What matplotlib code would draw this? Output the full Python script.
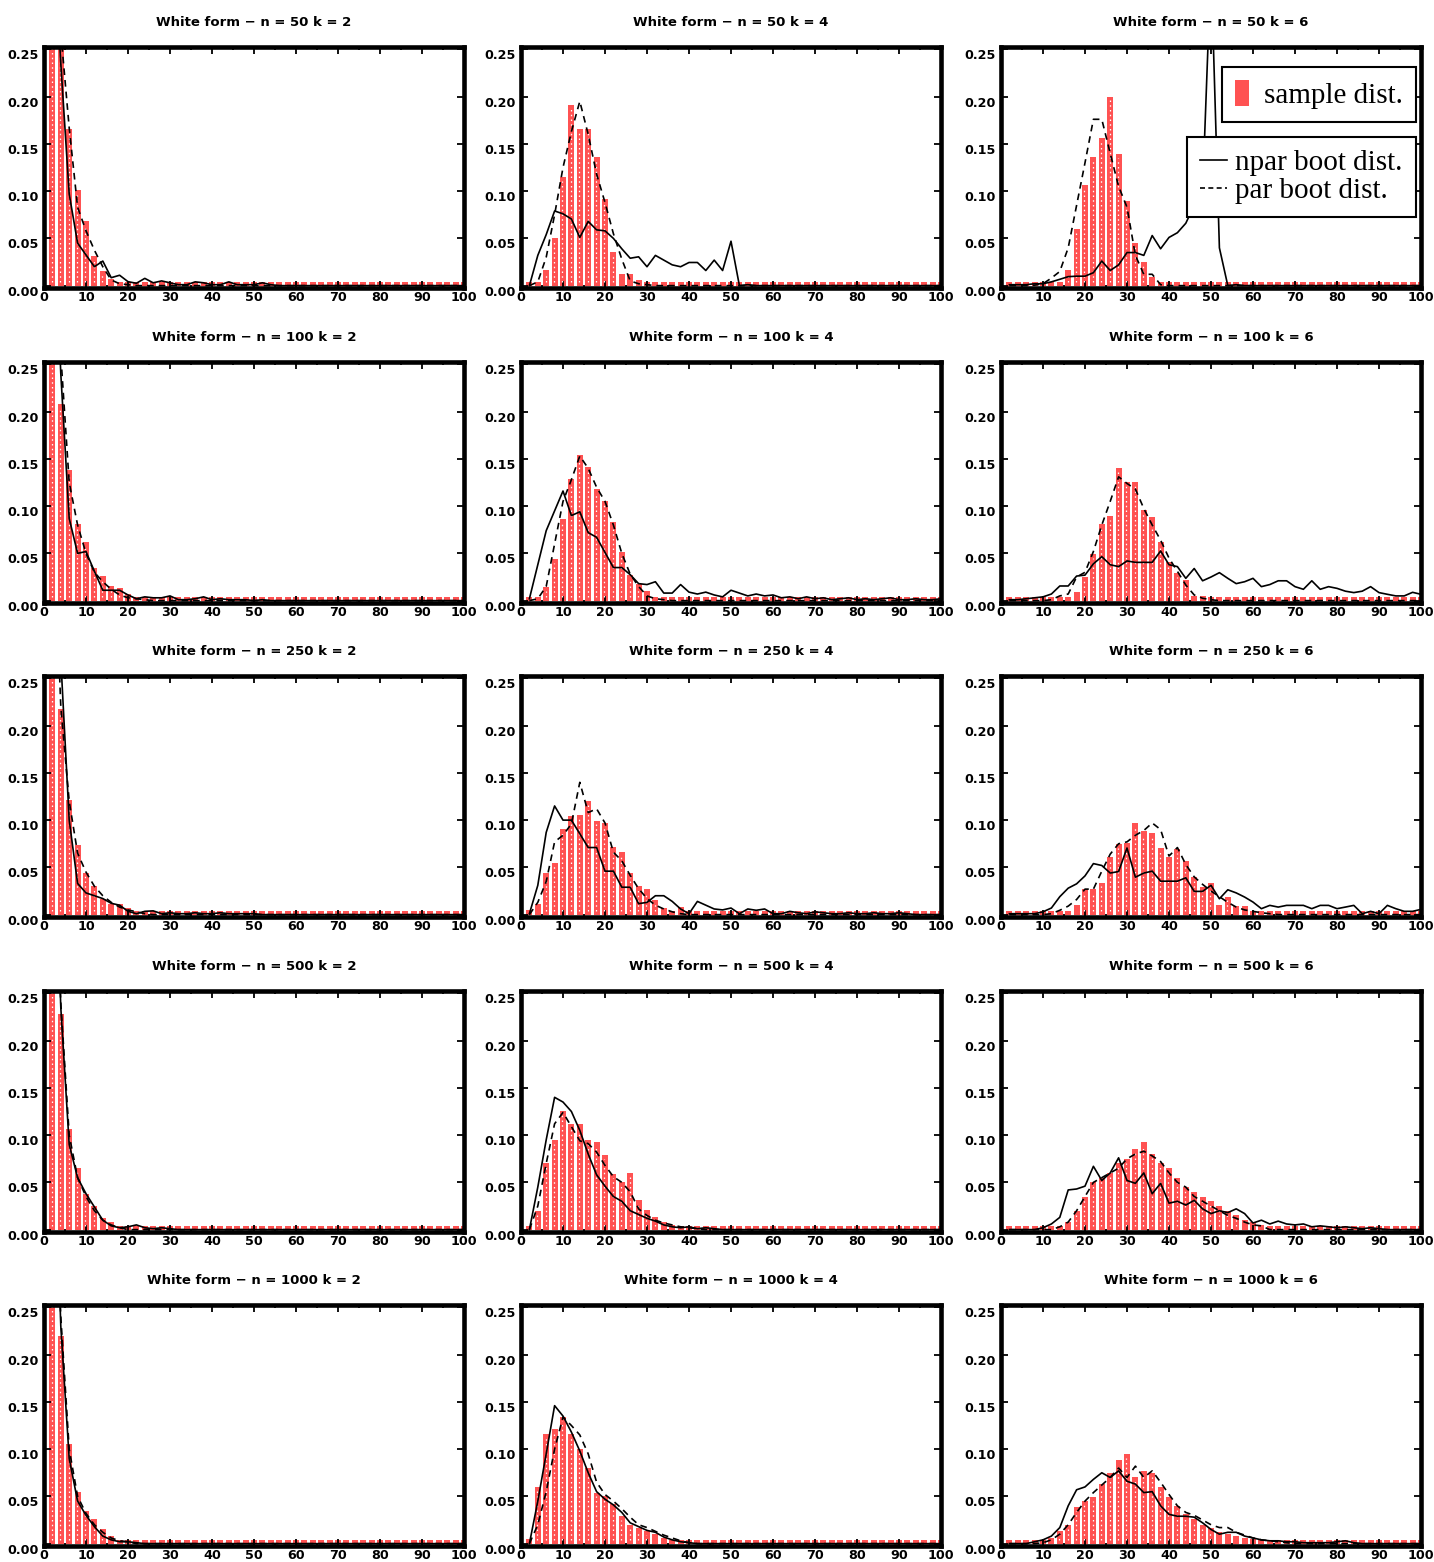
"""Sample vs bootstrap distributions of the White-form statistic, 5x3 grid."""

import matplotlib
matplotlib.use("Agg")
import matplotlib.pyplot as plt
import numpy as np
from matplotlib import font_manager
from matplotlib.lines import Line2D
from matplotlib.patches import Patch

TICK_FONT = ["DejaVu Sans Condensed", "Liberation Sans Narrow", "DejaVu Sans"]
LEGEND_FONT = ["Liberation Serif", "DejaVu Serif"]
RED = "#ff5252"
NBINS = 50
X = np.arange(2, 101, 2)  # bin centres, width 2

SAMPLE_SIZES = [50, 100, 250, 500, 1000]
K_VALUES = [2, 4, 6]

# ---- n = 50 ----
SAMPLE_50_2 = [0.33, 0.27, 0.166, 0.101, 0.068, 0.0315, 0.015, 0.007, 0.0015]
NPAR_50_2 = [0.40, 0.235, 0.097, 0.045, 0.0325, 0.02, 0.026, 0.0084, 0.011, 0.0042,
             0.0025, 0.0077, 0.003, 0.005, 0.003, 0.001, 0.001, 0.004, 0.003, 0.001,
             0.001, 0.004, 0.001, 0.001, 0.001, 0.003, 0.001]
PAR_50_2 = [0.32, 0.268, 0.167, 0.083, 0.058, 0.0375, 0.02, 0.006, 0.002, 0.001]

SAMPLE_50_4 = [0.0, 0.0, 0.0165, 0.05, 0.115, 0.191, 0.166, 0.166, 0.136, 0.092,
               0.036, 0.012, 0.012, 0.006]
NPAR_50_4 = [0.0, 0.032, 0.054, 0.079, 0.076, 0.0705, 0.051, 0.068, 0.059, 0.058,
             0.050, 0.039, 0.029, 0.0305, 0.020, 0.032, 0.027, 0.022, 0.020, 0.0245,
             0.0245, 0.016, 0.027, 0.016, 0.047, 0.0, 0.001]
PAR_50_4 = [0.0, 0.004, 0.03, 0.075, 0.125, 0.163, 0.195, 0.16, 0.118, 0.088,
            0.055, 0.028, 0.005, 0.002, 0.001]

SAMPLE_50_6 = [0, 0, 0, 0, 0, 0, 0, 0.0165, 0.06, 0.107, 0.1365, 0.156, 0.2, 0.139,
               0.09, 0.0456, 0.025, 0.0095]
NPAR_50_6 = [0.001, 0.001, 0.001, 0.002, 0.002, 0.004, 0.0067, 0.0095, 0.010, 0.010,
             0.0137, 0.026, 0.016, 0.022, 0.035, 0.035, 0.032, 0.053, 0.039, 0.051,
             0.056, 0.066, 0.085, 0.10, 0.34, 0.04, 0.0, 0.001]
PAR_50_6 = [0, 0, 0, 0.0005, 0.002, 0.008, 0.015, 0.04, 0.085, 0.13, 0.176, 0.176,
            0.14, 0.105, 0.083, 0.032, 0.012, 0.012, 0.001]

# ---- n = 100 ----
SAMPLE_100_2 = [0.40, 0.208, 0.138, 0.081, 0.062, 0.035, 0.026, 0.016, 0.013, 0.007,
                0.004, 0.002, 0.002, 0.001]
NPAR_100_2 = [0.45, 0.24, 0.087, 0.05, 0.052, 0.031, 0.011, 0.011, 0.011, 0.006,
              0.002, 0.004, 0.003, 0.003, 0.005, 0.001, 0.001, 0.002, 0.004, 0.001,
              0.002, 0.001, 0.001, 0.001, 0.0, 0.001]
PAR_100_2 = [0.38, 0.26, 0.125, 0.08, 0.05, 0.03, 0.02, 0.012, 0.006, 0.003, 0.002, 0.001]

SAMPLE_100_4 = [0.002, 0.002, 0.014, 0.044, 0.086, 0.1285, 0.154, 0.1415, 0.118, 0.1056,
                0.0827, 0.0511, 0.0271, 0.0176, 0.0106, 0.0035, 0.0018]
NPAR_100_4 = [0.002, 0.038, 0.074, 0.095, 0.116, 0.09, 0.094, 0.072, 0.067, 0.051,
              0.035, 0.035, 0.0275, 0.018, 0.017, 0.02, 0.008, 0.008, 0.017, 0.009,
              0.007, 0.009, 0.006, 0.004, 0.011, 0.008, 0.005, 0.007, 0.005, 0.006,
              0.003, 0.004, 0.002, 0.004, 0.002, 0.003, 0.001, 0.002, 0.003, 0.001,
              0.002, 0.001, 0.002, 0.003, 0.001, 0.001, 0.002, 0.001, 0.001, 0.002]
PAR_100_4 = [0.0, 0.002, 0.015, 0.06, 0.105, 0.128, 0.153, 0.14, 0.12, 0.105,
             0.08, 0.05, 0.028, 0.015, 0.005, 0.002, 0.001]

SAMPLE_100_6 = [0, 0, 0, 0, 0, 0, 0, 0.002, 0.0088, 0.025, 0.049, 0.0806, 0.0894, 0.14,
                0.126, 0.126, 0.096, 0.0887, 0.0616, 0.041, 0.029, 0.022, 0.005, 0.005]
NPAR_100_6 = [0.001, 0.001, 0.002, 0.003, 0.004, 0.007, 0.0155, 0.0155, 0.026, 0.027,
              0.039, 0.0465, 0.038, 0.036, 0.042, 0.0405, 0.0405, 0.0405, 0.0525, 0.038,
              0.036, 0.0236, 0.034, 0.021, 0.025, 0.0296, 0.0236, 0.018, 0.020, 0.0236,
              0.0148, 0.017, 0.021, 0.021, 0.0148, 0.012, 0.021, 0.012, 0.0148, 0.013,
              0.010, 0.0085, 0.010, 0.0148, 0.0085, 0.0067, 0.005, 0.005, 0.0088, 0.0067]
PAR_100_6 = [0, 0, 0, 0, 0, 0.001, 0.005, 0.007, 0.025, 0.03, 0.052, 0.08, 0.105, 0.131,
             0.124, 0.118, 0.0975, 0.08, 0.064, 0.045, 0.031, 0.0165, 0.006, 0.0025, 0.001]

# ---- n = 250 ----
SAMPLE_250_2 = [0.45, 0.2176, 0.121, 0.074, 0.0444, 0.030, 0.017, 0.0116, 0.0116, 0.007,
                0.003, 0.002]
NPAR_250_2 = [0.62, 0.27, 0.10, 0.033, 0.023, 0.020, 0.017, 0.012, 0.010, 0.0035,
              0.001, 0.0035, 0.004, 0.001, 0.002, 0.001, 0.001, 0.002, 0.001, 0.001,
              0.002, 0.001, 0.001, 0.001, 0.001]
PAR_250_2 = [0.45, 0.22, 0.12, 0.065, 0.045, 0.03, 0.02, 0.013, 0.008, 0.005, 0.003, 0.001]

SAMPLE_250_4 = [0.0046, 0.0116, 0.044, 0.055, 0.091, 0.104, 0.1056, 0.12, 0.0996, 0.097,
                0.0715, 0.066, 0.044, 0.030, 0.0275, 0.015, 0.007, 0.0035, 0.0077, 0.003]
NPAR_250_4 = [0.001, 0.031, 0.087, 0.115, 0.10, 0.10, 0.0856, 0.071, 0.071, 0.046,
              0.046, 0.029, 0.029, 0.0116, 0.013, 0.020, 0.020, 0.014, 0.006, 0.001,
              0.014, 0.010, 0.006, 0.005, 0.007, 0.001, 0.006, 0.0046, 0.006, 0.001,
              0.001, 0.0035, 0.002, 0.001, 0.003, 0.002, 0.001, 0.001, 0.002, 0.001,
              0.001, 0.002, 0.001, 0.001, 0.002, 0.001]
PAR_250_4 = [0.0, 0.013, 0.035, 0.077, 0.084, 0.096, 0.14, 0.108, 0.112, 0.097,
             0.066, 0.057, 0.0415, 0.0275, 0.017, 0.01, 0.006, 0.003, 0.001]

SAMPLE_250_6 = [0, 0, 0, 0, 0, 0, 0.0035, 0.004, 0.0105, 0.027, 0.027, 0.034, 0.061,
                0.075, 0.076, 0.097, 0.088, 0.086, 0.071, 0.061, 0.069, 0.057, 0.040,
                0.029, 0.033, 0.0105, 0.019, 0.0088, 0.0088, 0.003]
NPAR_250_6 = [0.001, 0.001, 0.001, 0.001, 0.003, 0.007, 0.019, 0.028, 0.0326, 0.041,
              0.054, 0.052, 0.044, 0.0456, 0.0705, 0.0396, 0.044, 0.046, 0.0354, 0.0354,
              0.0354, 0.039, 0.0246, 0.0246, 0.031, 0.0168, 0.0263, 0.023, 0.0186, 0.0133,
              0.0063, 0.0098, 0.008, 0.0098, 0.0098, 0.0098, 0.0063, 0.0098, 0.0098, 0.0063,
              0.008, 0.0098, 0.001, 0.0035, 0.001, 0.0098, 0.0063, 0.0035, 0.0035, 0.0056]
PAR_250_6 = [0, 0, 0, 0, 0, 0.001, 0.0046, 0.009, 0.016, 0.027, 0.027, 0.046, 0.064,
             0.075, 0.077, 0.084, 0.089, 0.097, 0.09, 0.062, 0.071, 0.053, 0.040, 0.032,
             0.025, 0.019, 0.013, 0.008, 0.005, 0.0035, 0.002, 0.001]

# ---- n = 500 ----
SAMPLE_500_2 = [0.42, 0.228, 0.106, 0.065, 0.038, 0.025, 0.012, 0.008, 0.004, 0.003, 0.002]
NPAR_500_2 = [0.50, 0.235, 0.09, 0.055, 0.038, 0.024, 0.01, 0.004, 0.002, 0.003, 0.005,
              0.002, 0.001, 0.002, 0.001]
PAR_500_2 = [0.45, 0.24, 0.10, 0.055, 0.035, 0.02, 0.01, 0.005, 0.002]

SAMPLE_500_4 = [0.003, 0.02, 0.07, 0.095, 0.125, 0.112, 0.112, 0.095, 0.093, 0.079,
                0.059, 0.05, 0.06, 0.031, 0.021, 0.013, 0.008, 0.005, 0.003, 0.002]
NPAR_500_4 = [0.0, 0.045, 0.095, 0.14, 0.135, 0.125, 0.105, 0.08, 0.058, 0.046,
              0.035, 0.03, 0.02, 0.016, 0.012, 0.009, 0.005, 0.003, 0.002, 0.003,
              0.001, 0.002, 0.001]
PAR_500_4 = [0.0, 0.025, 0.07, 0.112, 0.124, 0.109, 0.094, 0.091, 0.082, 0.068,
             0.056, 0.05, 0.04, 0.022, 0.015, 0.01, 0.007, 0.005, 0.003, 0.002, 0.001]

SAMPLE_500_6 = [0, 0, 0, 0, 0, 0, 0.003, 0.008, 0.02, 0.035, 0.05, 0.055, 0.06, 0.07,
                0.075, 0.085, 0.093, 0.08, 0.07, 0.065, 0.055, 0.045, 0.04, 0.035, 0.03,
                0.025, 0.02, 0.015, 0.01, 0.008, 0.005, 0.004, 0.003]
NPAR_500_6 = [0, 0, 0, 0, 0.002, 0.006, 0.013, 0.042, 0.043, 0.046, 0.067, 0.052, 0.06,
              0.076, 0.052, 0.049, 0.06, 0.038, 0.049, 0.028, 0.03, 0.026, 0.031, 0.022,
              0.017, 0.02, 0.018, 0.022, 0.017, 0.007, 0.01, 0.006, 0.009, 0.006, 0.005,
              0.006, 0.003, 0.004, 0.003, 0.002, 0.003, 0.002, 0.001, 0.002, 0.001]
PAR_500_6 = [0, 0, 0, 0, 0, 0, 0.003, 0.008, 0.02, 0.035, 0.05, 0.055, 0.06, 0.065,
             0.075, 0.08, 0.083, 0.078, 0.072, 0.06, 0.05, 0.045, 0.035, 0.03, 0.025,
             0.02, 0.015, 0.012, 0.008, 0.005, 0.004]

# ---- n = 1000 ----
SAMPLE_1000_2 = [0.42, 0.22, 0.105, 0.055, 0.035, 0.026, 0.015, 0.008, 0.004, 0.003]
NPAR_1000_2 = [0.50, 0.23, 0.09, 0.045, 0.03, 0.018, 0.008, 0.004, 0.002, 0.002, 0.001]
PAR_1000_2 = [0.45, 0.24, 0.10, 0.05, 0.032, 0.02, 0.012, 0.006, 0.003, 0.002]

SAMPLE_1000_4 = [0.005, 0.06, 0.116, 0.121, 0.134, 0.116, 0.10, 0.08, 0.054, 0.05,
                 0.042, 0.029, 0.02, 0.017, 0.013, 0.01, 0.006, 0.004, 0.002, 0.001]
NPAR_1000_4 = [0.0, 0.045, 0.095, 0.146, 0.135, 0.118, 0.098, 0.075, 0.055, 0.047,
               0.041, 0.033, 0.022, 0.018, 0.014, 0.012, 0.007, 0.004, 0.002, 0.001]
PAR_1000_4 = [0.0, 0.02, 0.055, 0.10, 0.134, 0.125, 0.115, 0.095, 0.065, 0.052,
              0.045, 0.037, 0.028, 0.02, 0.017, 0.013, 0.009, 0.006, 0.003, 0.001]

SAMPLE_1000_6 = [0, 0, 0, 0, 0, 0.006, 0.013, 0.02, 0.039, 0.045, 0.049, 0.063, 0.075,
                 0.088, 0.095, 0.07, 0.077, 0.075, 0.06, 0.049, 0.04, 0.031, 0.026, 0.02,
                 0.017, 0.012, 0.01, 0.008, 0.006, 0.005, 0.003, 0.002]
NPAR_1000_6 = [0, 0, 0, 0.002, 0.004, 0.008, 0.017, 0.04, 0.057, 0.06, 0.068, 0.075,
               0.07, 0.077, 0.066, 0.063, 0.054, 0.055, 0.04, 0.031, 0.029, 0.029, 0.028,
               0.022, 0.015, 0.01, 0.012, 0.012, 0.008, 0.006, 0.004, 0.003, 0.003, 0.002,
               0.002, 0.001, 0.001, 0.001, 0.001, 0.002, 0.003, 0.001]
PAR_1000_6 = [0, 0, 0, 0, 0.001, 0.004, 0.01, 0.02, 0.033, 0.045, 0.054, 0.062, 0.07,
              0.08, 0.07, 0.082, 0.07, 0.077, 0.065, 0.052, 0.04, 0.033, 0.03, 0.025,
              0.02, 0.017, 0.017, 0.012, 0.009, 0.006, 0.004, 0.003, 0.002, 0.001]


def _full(vals):
    """Trailing bins not listed are empty."""
    out = np.zeros(NBINS)
    out[:len(vals)] = vals
    return out


PANELS = {
    (n, k): tuple(_full(globals()[f"{name}_{n}_{k}"]) for name in ("SAMPLE", "NPAR", "PAR"))
    for n in SAMPLE_SIZES for k in K_VALUES
}

W, H = 1434, 1562
COL_LEFT = [44, 521, 1001]
ROW_TOP = [47, 362, 676, 991, 1305]
AX_W, AX_H = 420, 241
FLOOR = 0.004

_installed = {f.name for f in font_manager.fontManager.ttflist}
TICK_FONT = [f for f in TICK_FONT if f in _installed] or ["DejaVu Sans"]
NARROW = TICK_FONT[0] != "DejaVu Sans"
TICK_SIZE = 11 if NARROW else 9.2
TITLE_SIZE = 11 if NARROW else 9.5


def draw_panel(ax, sample, npar, par, title):
    heights = np.maximum(sample, FLOOR)
    ax.bar(X, heights, width=1.4, color=RED, linewidth=0, zorder=1)
    tall = sample > 0.012
    ax.vlines(X[tall] - 0.15, 0.004, sample[tall] - 0.004, colors="white",
              linestyles=(0, (1.2, 2.6)), linewidth=0.9, zorder=2)
    ax.plot(X, npar, color="black", lw=1.2, zorder=3)
    ax.plot(X, par, color="black", lw=1.2, dashes=(4, 3), zorder=3)

    ax.set_xlim(0, 100)
    ax.set_ylim(-0.0025, 0.2525)
    ax.set_xticks(np.arange(0, 101, 10))
    ax.set_xticks(np.arange(5, 100, 10), minor=True)
    ax.set_yticks(np.arange(0, 0.26, 0.05))
    ax.set_yticklabels([f"{v:.2f}" for v in np.arange(0, 0.26, 0.05)])
    ax.tick_params(which="both", direction="in", top=True, right=True, width=1.3)
    ax.tick_params(axis="x", which="major", length=5, pad=2)
    ax.tick_params(axis="y", which="major", length=5, pad=4)
    ax.tick_params(which="minor", length=2)
    for lbl in ax.get_xticklabels() + ax.get_yticklabels():
        lbl.set_family(TICK_FONT)
        lbl.set_fontweight("bold")
        lbl.set_fontsize(TICK_SIZE)
    for lbl in ax.get_yticklabels():
        lbl.set_va("top")
    for sp in ax.spines.values():
        sp.set_linewidth(3.3)
    ax.set_title(title, family=TICK_FONT, fontweight="bold", fontsize=TITLE_SIZE, pad=15)


fig = plt.figure(figsize=(W / 100, H / 100), dpi=100)
for r, n in enumerate(SAMPLE_SIZES):
    for c, k in enumerate(K_VALUES):
        rect = [COL_LEFT[c] / W, 1 - (ROW_TOP[r] + AX_H) / H, AX_W / W, AX_H / H]
        ax = fig.add_axes(rect)
        sample, npar, par = PANELS[(n, k)]
        draw_panel(ax, sample, npar, par, f"White form − n = {n} k = {k}")
        if r == 0 and c == 2:
            leg1 = ax.legend([Patch(facecolor=RED)], ["sample dist."],
                             loc="upper right", bbox_to_anchor=(0.988, 0.917),
                             borderaxespad=0, fancybox=False, framealpha=1,
                             edgecolor="black", handlelength=0.5, handleheight=1.0,
                             handletextpad=0.5, borderpad=0.45,
                             prop={"family": LEGEND_FONT, "size": 21})
            leg1.get_frame().set_linewidth(1.5)
            ax.add_artist(leg1)
            handles = [Line2D([], [], color="black", lw=1.2),
                       Line2D([], [], color="black", lw=1.2, dashes=(3, 2))]
            leg2 = ax.legend(handles, ["npar boot dist.", "par boot dist."],
                             loc="upper right", bbox_to_anchor=(0.988, 0.627),
                             borderaxespad=0, fancybox=False, framealpha=1,
                             edgecolor="black", handlelength=0.9, handletextpad=0.3,
                             borderpad=0.45, labelspacing=0.05,
                             prop={"family": LEGEND_FONT, "size": 21})
            leg2.get_frame().set_linewidth(1.5)

fig.savefig("out.png", dpi=100)
